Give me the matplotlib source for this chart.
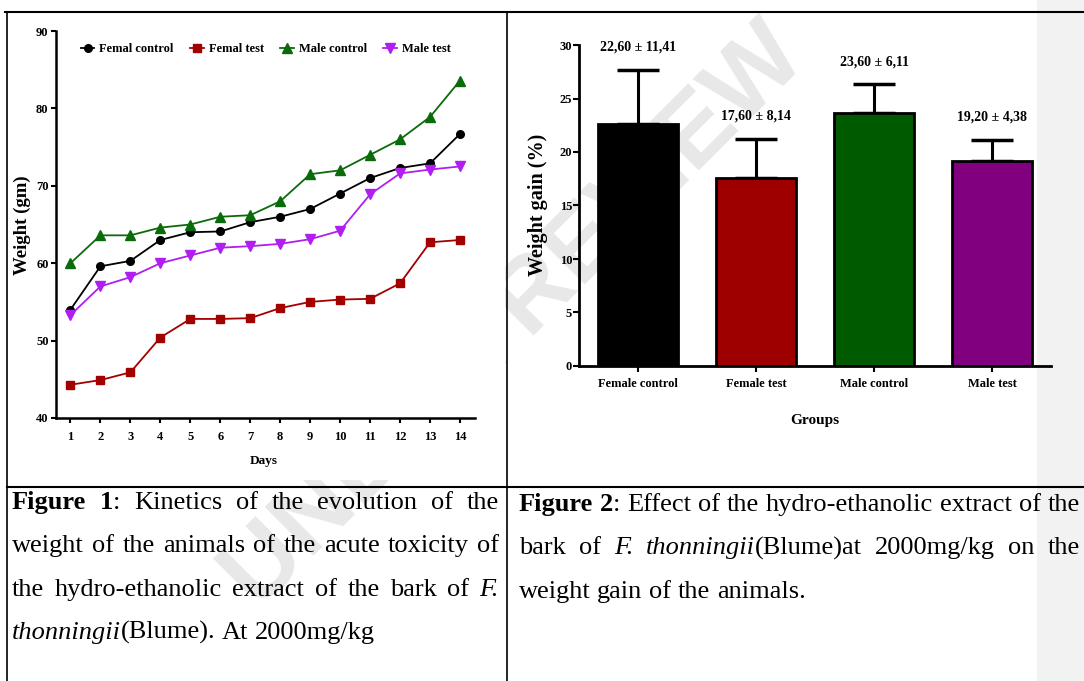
import re
import numpy as np
import matplotlib
matplotlib.use("Agg")
import matplotlib.pyplot as plt
from matplotlib import font_manager as fm
from matplotlib.lines import Line2D
from matplotlib.patches import Rectangle

# figure 1: body weight per day
days = list(range(1, 15))
femal_control = [54.0, 59.6, 60.3, 63.0, 64.0, 64.1, 65.3, 66.0, 67.0, 69.0, 71.0, 72.3, 72.9, 76.7]
femal_test = [44.3, 44.9, 45.9, 50.4, 52.8, 52.8, 52.9, 54.2, 55.0, 55.3, 55.4, 57.4, 62.7, 63.0]
male_control = [60.0, 63.6, 63.6, 64.6, 65.0, 66.0, 66.2, 68.0, 71.5, 72.0, 74.0, 76.0, 78.9, 83.6]
male_test = [53.3, 57.0, 58.2, 60.0, 61.0, 62.0, 62.2, 62.5, 63.1, 64.2, 68.9, 71.6, 72.1, 72.5]
series_names = ["Femal control", "Femal test", "Male control", "Male test"]

# figure 2: weight gain per group
groups = ["Female control", "Female test", "Male control", "Male test"]
gain = [22.6, 17.6, 23.6, 19.2]
gain_err = [5.1, 3.64, 2.73, 1.96]
gain_labels = ["22,60 \u00b1 11,41", "17,60 \u00b1 8,14", "23,60 \u00b1 6,11", "19,20 \u00b1 4,38"]

caption1 = [
    ("**Figure 1**: Kinetics of the evolution of the", True),
    ("weight of the animals of the acute toxicity of", True),
    ("the hydro-ethanolic extract of the bark of _F._", True),
    ("_thonningii_(Blume). At 2000mg/kg", False),
]
caption2 = [
    ("**Figure 2**: Effect of the hydro-ethanolic extract of the", True),
    ("bark of _F. thonningii_(Blume)at 2000mg/kg on the", True),
    ("weight gain of the animals.", False),
]

W, H = 1084, 681
names = {f.name for f in fm.fontManager.ttflist}
CHART = "Liberation Sans Narrow" if "Liberation Sans Narrow" in names else "Liberation Serif"
SERIF = "Liberation Serif"
CAP_SIZE = 19

fig = plt.figure(figsize=(W / 100, H / 100), dpi=100, facecolor="white")


def fx(x):
    return x / W


def fy(y):
    return 1 - y / H


def add_axes_px(l, t, r, b):
    return fig.add_axes([fx(l), fy(b), (r - l) / W, (b - t) / H])


def hline(x0, x1, y, lw):
    fig.add_artist(Line2D([fx(x0), fx(x1)], [fy(y), fy(y)], color="black", lw=lw,
                          transform=fig.transFigure, zorder=5))


def vline(x, y0, y1, lw):
    fig.add_artist(Line2D([fx(x), fx(x)], [fy(y0), fy(y1)], color="black", lw=lw,
                          transform=fig.transFigure, zorder=5))


# page background bits: grey margin band, watermark, white image of figure 1
fig.add_artist(Rectangle((fx(1037), 0), 1 - fx(1037), 1, transform=fig.transFigure,
                         facecolor="#f2f2f2", edgecolor="none", zorder=-3))
fig.text(fx(515), fy(318), "UNDER REVIEW", rotation=45, fontsize=72, weight="bold",
         family="Liberation Sans", color="#e8e8e8", ha="center", va="center", zorder=-2)
fig.add_artist(Rectangle((fx(9), fy(480)), fx(505) - fx(9), fy(14) - fy(480),
                         transform=fig.transFigure, facecolor="white", edgecolor="none", zorder=-1))

# ---- figure 1 ----
ax1 = add_axes_px(55.5, 31, 475, 418)
ax1.set_zorder(1)
ax1.patch.set_visible(False)
styles = [("black", "o", 5.5), ("#a30000", "s", 5.5), ("#0b6b0b", "^", 6.5), ("#b01ef0", "v", 6.5)]
for vals, name, (c, m, ms) in zip([femal_control, femal_test, male_control, male_test], series_names, styles):
    ax1.plot(days, vals, color=c, marker=m, ms=ms, lw=1.3, label=name)
ax1.set_xlim(0.5, 14.5)
ax1.set_ylim(40, 90)
ax1.set_xticks(days)
ax1.set_yticks(range(40, 91, 10))
for s in ["top", "right"]:
    ax1.spines[s].set_visible(False)
for s in ["left", "bottom"]:
    ax1.spines[s].set_linewidth(1.8)
ax1.tick_params(axis="both", width=1.5, length=3.5, labelsize=9)
ax1.tick_params(axis="x", pad=6)
ax1.tick_params(axis="y", pad=1.5)
for lab in ax1.get_xticklabels() + ax1.get_yticklabels():
    lab.set_family(CHART)
    lab.set_weight("bold")
ax1.set_xlabel("Days", family=CHART, weight="bold", fontsize=9.5)
ax1.xaxis.label.set_va("center")
ax1.xaxis.set_label_coords(0.497, -0.111)
ax1.set_ylabel("Weight (gm)", family=SERIF, weight="bold", fontsize=13.5)
ax1.yaxis.label.set_va("center")
ax1.yaxis.set_label_coords(-0.080, 0.499)
ax1.legend(loc="center left", bbox_to_anchor=(0.045, 0.953), ncol=4, frameon=False,
           handlelength=1.1, handletextpad=0.4, columnspacing=1.3, borderpad=0,
           prop={"family": CHART, "weight": "bold", "size": 9})

# ---- figure 2 ----
ax2 = add_axes_px(579, 45, 1051, 366)
ax2.set_zorder(1)
ax2.patch.set_visible(False)
x = np.arange(len(groups))
ax2.bar(x, gain, width=0.67, color=["black", "#9e0000", "#005a00", "#800080"],
        edgecolor="black", linewidth=2, zorder=2)
ax2.errorbar(x, gain, yerr=[[0] * len(gain), gain_err], fmt="none", ecolor="black",
             elinewidth=2.2, capsize=15, capthick=2.5, zorder=1)
for xi, v, e, lab in zip(x, gain, gain_err, gain_labels):
    ax2.annotate(lab, (xi, v + e), xytext=(0, 16), textcoords="offset points",
                 ha="center", va="center", family=CHART, weight="bold", fontsize=10)
ax2.set_xlim(-0.5, 3.5)
ax2.set_ylim(0, 30)
ax2.set_xticks(x)
ax2.set_xticklabels(groups)
ax2.set_yticks(range(0, 31, 5))
for s in ["top", "right"]:
    ax2.spines[s].set_visible(False)
for s in ["left", "bottom"]:
    ax2.spines[s].set_linewidth(2)
ax2.tick_params(axis="both", width=1.5, length=4, labelsize=9)
ax2.tick_params(axis="x", pad=5)
ax2.tick_params(axis="y", pad=1)
for lab in ax2.get_xticklabels() + ax2.get_yticklabels():
    lab.set_family(CHART)
    lab.set_weight("bold")
ax2.set_xlabel("Groups", family=CHART, weight="bold", fontsize=11)
ax2.xaxis.label.set_va("center")
ax2.xaxis.set_label_coords(0.5, -0.171)
ax2.set_ylabel("Weight gain (%)", family=SERIF, weight="bold", fontsize=14.5)
ax2.yaxis.label.set_va("center")
ax2.yaxis.set_label_coords(-0.087, 0.502)

# ---- table borders ----
hline(5, W, 12, 1.5)
hline(7, W, 487, 1.5)
vline(7, 12, H, 1.2)
vline(507, 12, H, 1.2)

# ---- captions (justified) ----
renderer = fig.canvas.get_renderer()


def parse(line):
    words = [[]]
    for part in re.split(r"(\*\*.+?\*\*|_.+?_)", line):
        if not part:
            continue
        if part.startswith("**"):
            text, wt, st = part[2:-2], "bold", "normal"
        elif part.startswith("_"):
            text, wt, st = part[1:-1], "normal", "italic"
        else:
            text, wt, st = part, "normal", "normal"
        for i, p in enumerate(text.split(" ")):
            if i > 0:
                words.append([])
            if p:
                words[-1].append((p, wt, st))
    return [w for w in words if w]


def seg_width(text, wt, st):
    t = fig.text(0, 0, text, fontsize=CAP_SIZE, family=SERIF, weight=wt, style=st)
    w = t.get_window_extent(renderer).width
    t.remove()
    return w


def caption(lines, x0, x1, y0, gap_y=43.3):
    for k, (line, justify) in enumerate(lines):
        words = parse(line)
        widths = [[seg_width(*seg) for seg in word] for word in words]
        total = sum(sum(w) for w in widths)
        gap = (x1 - x0 - total) / (len(words) - 1) if justify else CAP_SIZE * 0.25 * 100 / 72
        xx = x0
        y = y0 + k * gap_y
        for word, ws in zip(words, widths):
            for (txt, wt, st), w in zip(word, ws):
                fig.text(fx(xx), fy(y), txt, fontsize=CAP_SIZE, family=SERIF, weight=wt,
                         style=st, va="baseline", ha="left")
                xx += w
            xx += gap


caption(caption1, 12, 499, 509)
caption(caption2, 519, 1080, 511)

fig.savefig("out.png", dpi=100, facecolor="white")
